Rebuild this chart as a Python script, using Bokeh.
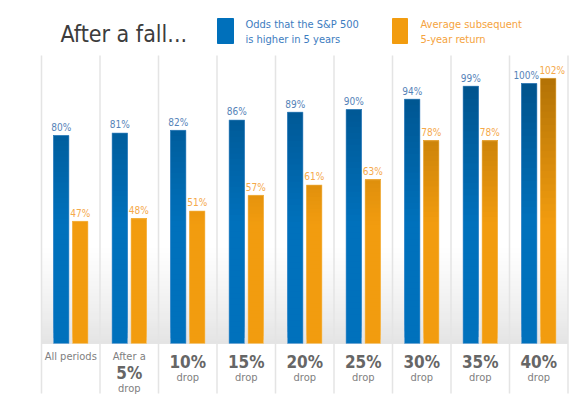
import numpy as np
from bokeh.plotting import figure
from bokeh.models import Range1d
from bokeh.embed import file_html
from bokeh.resources import INLINE
from bokeh.core.properties import value

# ---- data ----
categories = ["All periods", "5%", "10%", "15%", "20%", "25%", "30%", "35%", "40%"]
label_prefix = ["", "After a", "", "", "", "", "", "", ""]
label_suffix = ["", "drop", "drop", "drop", "drop", "drop", "drop", "drop", "drop"]
odds_higher = [80, 81, 82, 86, 89, 90, 94, 99, 100]
avg_return = [47, 48, 51, 57, 61, 63, 78, 78, 102]
series_names = ["Odds that the S&P 500\nis higher in 5 years", "Average subsequent\n5-year return"]

# ---- layout constants ----
W, H = 578, 396
ORG = 0                # image offset of the figure
COL_W = 58.5           # px per category
LEFT_IMG = 41          # image x of first column edge
BASE_IMG = 343         # image y of zero
PX_PER_UNIT = 2.6
xs0 = -(LEFT_IMG - ORG) / COL_W
x_range = Range1d(xs0, xs0 + W / COL_W)
y_range = Range1d(-(H - (BASE_IMG - ORG)) / PX_PER_UNIT, (BASE_IMG - ORG) / PX_PER_UNIT)

def px(x_img):
    return xs0 + (x_img - ORG) / COL_W

def py(y_img):
    return (BASE_IMG - y_img) / PX_PER_UNIT

FONT = "'DejaVu Sans Condensed', 'Roboto', sans-serif"

p = figure(width=W, height=H, x_range=x_range, y_range=y_range,
           output_backend="svg", toolbar_location=None, tools="",
           min_border=0, outline_line_color=None)
p.axis.visible = False
p.grid.visible = False
p.background_fill_color = "white"
p.border_fill_color = "white"

n = len(categories)
centers = np.arange(n) + 0.5

def lerp_hex(c1, c2, t):
    a = np.array([int(c1[i:i + 2], 16) for i in (1, 3, 5)])
    b = np.array([int(c2[i:i + 2], 16) for i in (1, 3, 5)])
    c = np.round(a + (b - a) * t).astype(int)
    return "#%02x%02x%02x" % tuple(c)

# background gradient near the baseline (painter's order, overlapping bands)
g_top = py(245)
bands = np.linspace(0, g_top, 40)
p.quad(left=0, right=n, bottom=0, top=bands[::-1][:-1],
       fill_color=[lerp_hex("#e2e2e2", "#ffffff", (b / g_top) ** 0.8) for b in bands[::-1][:-1]],
       line_color=None)

# separators
p.segment(x0=np.arange(n + 1), x1=np.arange(n + 1), y0=py(393), y1=py(55),
          line_color="#e4e4e4", line_width=1.5)

# gradient bars (each slice runs from its bottom edge to the bar top, drawn in order)
OFF = 9.5 / COL_W
BW = 15.5 / COL_W

def grad_bars(vals, xoff, c_bottom, c_top):
    xs, bots, tops, cols = [], [], [], []
    for c, v in zip(centers, vals):
        edges = np.linspace(0, v, 41)[:-1]
        for b0 in edges:
            t = min(max((b0 - 45) / 55, 0), 1)
            xs.append(c + xoff)
            bots.append(b0)
            tops.append(v)
            cols.append(lerp_hex(c_bottom, c_top, t))
    p.vbar(x=xs, bottom=bots, top=tops, width=BW, fill_color=cols, line_color=None)

grad_bars(odds_higher, -OFF, "#0071bc", "#00528b")
grad_bars(avg_return, OFF, "#f29c0f", "#b37306")

# light bar outlines
p.vbar(x=centers - OFF, top=odds_higher, width=BW, fill_color=None,
       line_color="#6aa3d6", line_alpha=0.55, line_width=1)
p.vbar(x=centers + OFF, top=avg_return, width=BW, fill_color=None,
       line_color="#f8c879", line_alpha=0.55, line_width=1)

# value labels (three-digit labels nudged apart so they do not collide)
lab_off = 2.5 / PX_PER_UNIT
p.text(x=centers - OFF, y=np.array(odds_higher) + lab_off,
       text=[f"{v}%" for v in odds_higher], text_align="center", text_baseline="bottom",
       x_offset=[-3 if v >= 100 else 0 for v in odds_higher],
       text_font=value(FONT), text_font_size="10px", text_color="#5583b8")
p.text(x=centers + OFF, y=np.array(avg_return) + lab_off,
       text=[f"{v}%" for v in avg_return], text_align="center", text_baseline="bottom",
       x_offset=[4 if v >= 100 else 0 for v in avg_return],
       text_font=value(FONT), text_font_size="10px", text_color="#f5a94a")

# category labels
small_x, small_y, small_t = [], [], []
big_x, big_y, big_t = [], [], []
for c, cat, pre, suf in zip(centers, categories, label_prefix, label_suffix):
    if suf == "":
        small_x.append(c); small_y.append(py(356)); small_t.append(cat)
    elif pre:
        small_x += [c, c]; small_y += [py(356), py(388)]; small_t += [pre, suf]
        big_x.append(c); big_y.append(py(372)); big_t.append(cat)
    else:
        small_x.append(c); small_y.append(py(377)); small_t.append(suf)
        big_x.append(c); big_y.append(py(361)); big_t.append(cat)
p.text(x=small_x, y=small_y, text=small_t, text_align="center", text_baseline="middle",
       text_font=value(FONT), text_font_size="11px", text_color="#808080")
p.text(x=big_x, y=big_y, text=big_t, text_align="center", text_baseline="middle",
       text_font=value(FONT), text_font_size="17px", text_font_style="bold", text_color="#666666")

# title
p.text(x=[px(60)], y=[py(33)], text=["After a fall..."], text_align="left",
       text_baseline="middle", text_font=value(FONT), text_font_size="23px",
       text_color="#3c3c3c")

# legend
p.quad(left=[px(217), px(392)], right=[px(233), px(407)], bottom=[py(43), py(43)],
       top=[py(18), py(18)], fill_color=["#0070bb", "#f29c0f"], line_color=["#0070bb", "#f29c0f"])
leg_x, leg_y, leg_t, leg_c = [], [], [], []
for name, x0, col in zip(series_names, [245, 420], ["#3d7cc0", "#f5a340"]):
    for line, yy in zip(name.split("\n"), [24, 39]):
        leg_x.append(px(x0)); leg_y.append(py(yy)); leg_t.append(line); leg_c.append(col)
p.text(x=leg_x, y=leg_y, text=leg_t, text_color=leg_c, text_align="left",
       text_baseline="middle", text_font=value(FONT), text_font_size="11px")

open("out.html", "w").write(file_html(p, INLINE))
